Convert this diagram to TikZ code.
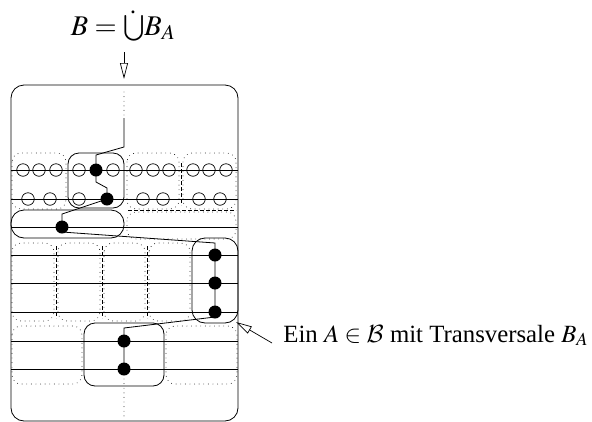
\documentclass[tikz,border=0pt]{standalone}
\usepackage{mathptmx}
\usepackage[no-math]{fontspec}
\setmainfont{Liberation Serif}
\DeclareMathAlphabet{\mathcal}{OMS}{cmsy}{m}{n}
\usetikzlibrary{arrows.meta}
\newcommand{\dotcupsym}{\mathord{\ooalign{$\bigcup$\cr\hidewidth\smash{\raisebox{0.56em}{$\cdot$}}\hidewidth\cr}}}
\begin{document}
\begin{tikzpicture}[x=1pt,y=-1pt,line width=0.8pt,
  dotbox/.style={line width=0.9pt,dash pattern=on 0pt off 4.6pt,line cap=round,rounded corners=9pt},
  dashline/.style={line width=0.8pt,dash pattern=on 3.5pt off 2.5pt},
  abox/.style={line width=0.8pt,rounded corners=11pt},
  hollow/.style={circle,draw,inner sep=0pt,minimum size=12.5pt,line width=0.7pt},
  full/.style={circle,fill=black,inner sep=0pt,minimum size=13pt},
  openarrow/.style={-{Triangle[open,length=16pt,width=8pt]},line width=0.7pt}]
\useasboundingbox (0,0) rectangle (592,421);

% title and arrow
\node[anchor=base,inner sep=0pt] (title) at (123,35) {\fontsize{28.5}{32}\selectfont $B=\dotcupsym B_A$};
\coordinate (atail) at (124,52);
\coordinate (ahead) at (124,79);
\draw[openarrow] (atail) -- (ahead);

% outer box
\draw[rounded corners=13pt] (11,85) rectangle (238,421);

% dotted / dashed cells
\draw[dotbox] (12,153) rectangle (66,209);
\draw[dotbox] (127,153) rectangle (179,209);
\draw[dotbox] (183,153) rectangle (236,209);
\draw[dashline] (181,163) -- (181,205);
\draw[dashline] (128,210) -- (236,210);
\draw[dotbox] (127,212) rectangle (236,239);
\draw[dotbox] (12,243) rectangle (54,321);
\draw[dotbox] (58,243) rectangle (100,321);
\draw[dotbox] (104,243) rectangle (145,321);
\draw[dotbox] (149,243) rectangle (190,321);
\draw[dashline] (56,246) -- (56,318);
\draw[dashline] (102,246) -- (102,318);
\draw[dashline] (147,246) -- (147,318);
\draw[dotbox] (12,326) rectangle (82,384);
\draw[dotbox] (166,326) rectangle (237,384);

% rows
\foreach \y in {170,199,227,255,283,312,341,369}
  \draw (11,\y) -- (238,\y);

% A boxes
\draw[abox] (68,153) rectangle (124,208);
\draw[abox,rounded corners=13pt] (11,210) rectangle (124,238);
\draw[abox,rounded corners=13pt] (192,238) rectangle (238,323);
\draw[abox] (84,323) rectangle (164,386);

% hollow elements
\foreach \x/\n in {23/a1,39/a2,56/a3,79/a4,113/a5,136/a6,153/a7,169/a8,193/a9,209/a10,226/a11}
  \node[hollow] (\n) at (\x,170) {};
\foreach \x/\n in {28/b1,50/b2,79/b3,143/b4,163/b5,199/b6,220/b7}
  \node[hollow] (\n) at (\x,199) {};

% transversal elements
\node[full] (t1) at (96,170) {};
\node[full] (t2) at (107,199) {};
\node[full] (t3) at (62,227) {};
\node[full] (t4) at (215,255) {};
\node[full] (t5) at (215,283) {};
\node[full] (t6) at (215,312) {};
\node[full] (t7) at (124,341) {};
\node[full] (t8) at (124,369) {};

\coordinate (top0) at (124,92);
\coordinate (top1) at (124,118);
\coordinate (bot1) at (124,416);
\draw[line width=0.9pt,dash pattern=on 0pt off 4.6pt,line cap=round] (top0) -- (top1);
\draw (top1) -- (124,147) -- (96,155) -- (t1.center) -- (96,182) -- (107,188) -- (t2.center)
  -- (62,214) -- (t3.center) -- (62,232) -- (215,243) -- (t4.center) -- (t5.center) -- (t6.center)
  -- (215,317) -- (124,328) -- (t7.center) -- (t8.center);
\draw[line width=0.9pt,dash pattern=on 0pt off 4.6pt,line cap=round] (t8.center) ++(0,10) -- (bot1);

% label
\node[anchor=base west,inner sep=0pt] (lbl) at (283,342) {\fontsize{24.8}{28}\selectfont Ein $A\in\mathcal{B}$ mit Transversale $B_A$};
\coordinate (ltail) at (272,343);
\coordinate (ltip) at (236,322);
\draw[openarrow] (ltail) -- (ltip);
\end{tikzpicture}
\end{document}
